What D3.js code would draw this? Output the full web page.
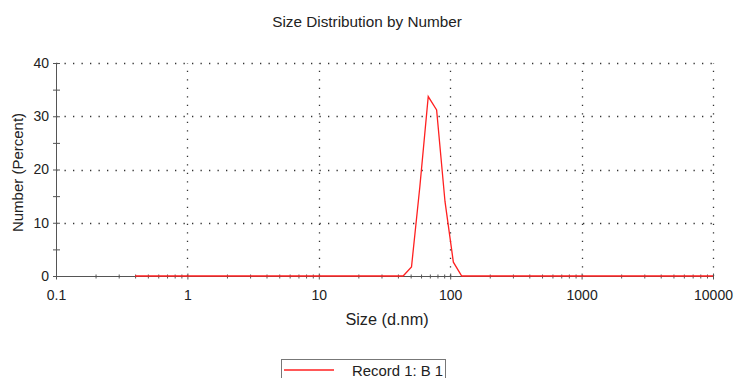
<!DOCTYPE html>
<html>
<head>
<meta charset="utf-8">
<script src="https://cdn.jsdelivr.net/npm/d3@7"></script>
<style>
  body { margin: 0; background: #fff; }
  svg { display: block; font-family: "Liberation Sans", Arial, sans-serif; }
  .axis path, .axis line { stroke: #555; }
  .axis text { font-size: 14px; fill: #222; }
  .grid { stroke: #333; stroke-width: 1.3; stroke-dasharray: 1.3,7.2; }
</style>
</head>
<body>
<svg id="chart" width="734" height="378"></svg>
<script>
// size bins (d.nm) as exported by the instrument
const sizes = [0.4, 0.4632, 0.5365, 0.6213, 0.7195, 0.8332, 0.9649, 1.117, 1.294, 1.499,
  1.736, 2.010, 2.328, 2.696, 3.122, 3.615, 4.187, 4.849, 5.615, 6.503,
  7.531, 8.721, 10.10, 11.70, 13.54, 15.69, 18.17, 21.04, 24.36, 28.21,
  32.67, 37.84, 43.82, 50.75, 58.77, 68.06, 78.82, 91.28, 105.7, 122.4,
  141.8, 164.2, 190.1, 220.2, 255.0, 295.3, 342.0, 396.1, 458.7, 531.2,
  615.1, 712.4, 825.0, 955.4, 1106, 1281, 1484, 1718, 1990, 2305,
  2669, 3091, 3580, 4145, 4801, 5560, 6439, 7456, 8635, 10000];

// Record 1: B 1, number %
const numberPct = [0, 0, 0, 0, 0, 0, 0, 0, 0, 0,
  0, 0, 0, 0, 0, 0, 0, 0, 0, 0,
  0, 0, 0, 0, 0, 0, 0, 0, 0, 0,
  0, 0, 0, 1.7, 16.8, 33.7, 31.2, 14.0, 2.6, 0,
  0, 0, 0, 0, 0, 0, 0, 0, 0, 0,
  0, 0, 0, 0, 0, 0, 0, 0, 0, 0,
  0, 0, 0, 0, 0, 0, 0, 0, 0, 0];

const xLabels = [0.1, 1, 10, 100, 1000, 10000];
const yTicks = [0, 5, 10, 15, 20, 25, 30, 35, 40];
const yLabels = [0, 10, 20, 30, 40];
const seriesName = "Record 1: B 1";

const svg = d3.select("#chart");
const margin = { left: 56, right: 21, top: 63, bottom: 102 };
const width = 734, height = 378;

const x = d3.scaleLog().domain([0.1, 10000]).range([margin.left, width - margin.right]);
const y = d3.scaleLinear().domain([0, 40]).range([height - margin.bottom, margin.top]);

// minor log ticks 1..9 per decade
const xTicks = [];
xLabels.slice(0, -1).forEach(d => {
  for (let k = 1; k < 10; k++) xTicks.push(d * k);
});
xTicks.push(10000);

// dotted grid
svg.append("g").selectAll("line")
  .data(yLabels.filter(d => d > 0))
  .join("line")
  .attr("class", "grid")
  .attr("x1", x(0.1)).attr("x2", x(10000))
  .attr("y1", d => Math.round(y(d)) + 0.5).attr("y2", d => Math.round(y(d)) + 0.5);

svg.append("g").selectAll("line")
  .data(xLabels.filter(d => d > 0.1))
  .join("line")
  .attr("class", "grid")
  .attr("x1", d => Math.round(x(d)) + 0.5).attr("x2", d => Math.round(x(d)) + 0.5)
  .attr("y1", y(0)).attr("y2", y(40));

// y axis
const yAxis = svg.append("g")
  .attr("class", "axis")
  .attr("transform", `translate(${margin.left + 0.5},0)`)
  .call(d3.axisLeft(y).tickValues(yTicks).tickSize(3).tickPadding(6)
    .tickFormat(d => yLabels.includes(d) ? d : ""));
yAxis.select(".domain").attr("d", `M0,${y(0)}V${y(40)}`);
yAxis.selectAll(".tick line").attr("x1", 3.5).attr("x2", -3.5);
yAxis.selectAll(".tick text").attr("x", -7.5);

// x axis
const xAxis = svg.append("g")
  .attr("class", "axis")
  .attr("transform", `translate(0,${Math.round(y(0)) + 0.5})`)
  .call(d3.axisBottom(x).tickValues(xTicks).tickSize(2)
    .tickFormat(d => xLabels.includes(d) ? String(d) : ""));
xAxis.select(".domain").attr("d", `M${x(0.1)},0H${x(10000)}`);
xAxis.selectAll(".tick line").attr("y1", -2).attr("y2", 2)
  .filter(d => xLabels.includes(d)).attr("y1", -3).attr("y2", 3);
xAxis.selectAll(".tick text").attr("y", 14);

// distribution line
const line = d3.line().x((d, i) => x(sizes[i])).y(d => y(d));
svg.append("path")
  .datum(numberPct)
  .attr("fill", "none")
  .attr("stroke", "#ff2020")
  .attr("stroke-width", 1.3)
  .attr("d", line);

// titles
svg.append("text")
  .attr("x", 367).attr("y", 27)
  .attr("text-anchor", "middle")
  .style("font-size", "15.3px").style("fill", "#222")
  .text("Size Distribution by Number");

svg.append("text")
  .attr("x", 387).attr("y", 325)
  .attr("text-anchor", "middle")
  .style("font-size", "16.3px").style("fill", "#222")
  .text("Size (d.nm)");

svg.append("text")
  .attr("transform", `translate(23,${(y(0) + y(40)) / 2 + 3}) rotate(-90)`)
  .attr("text-anchor", "middle")
  .style("font-size", "15px").style("fill", "#222")
  .text("Number (Percent)");

// legend
const leg = svg.append("g");
leg.append("rect")
  .attr("x", 281.5).attr("y", 359.5).attr("width", 164).attr("height", 30)
  .attr("fill", "none").attr("stroke", "#777");
leg.append("line")
  .attr("x1", 284).attr("x2", 334).attr("y1", 370).attr("y2", 370)
  .attr("stroke", "#ff2020").attr("stroke-width", 1.3);
leg.append("text")
  .attr("x", 352).attr("y", 376)
  .style("font-size", "14.9px").style("fill", "#222")
  .text(seriesName);
</script>
</body>
</html>
